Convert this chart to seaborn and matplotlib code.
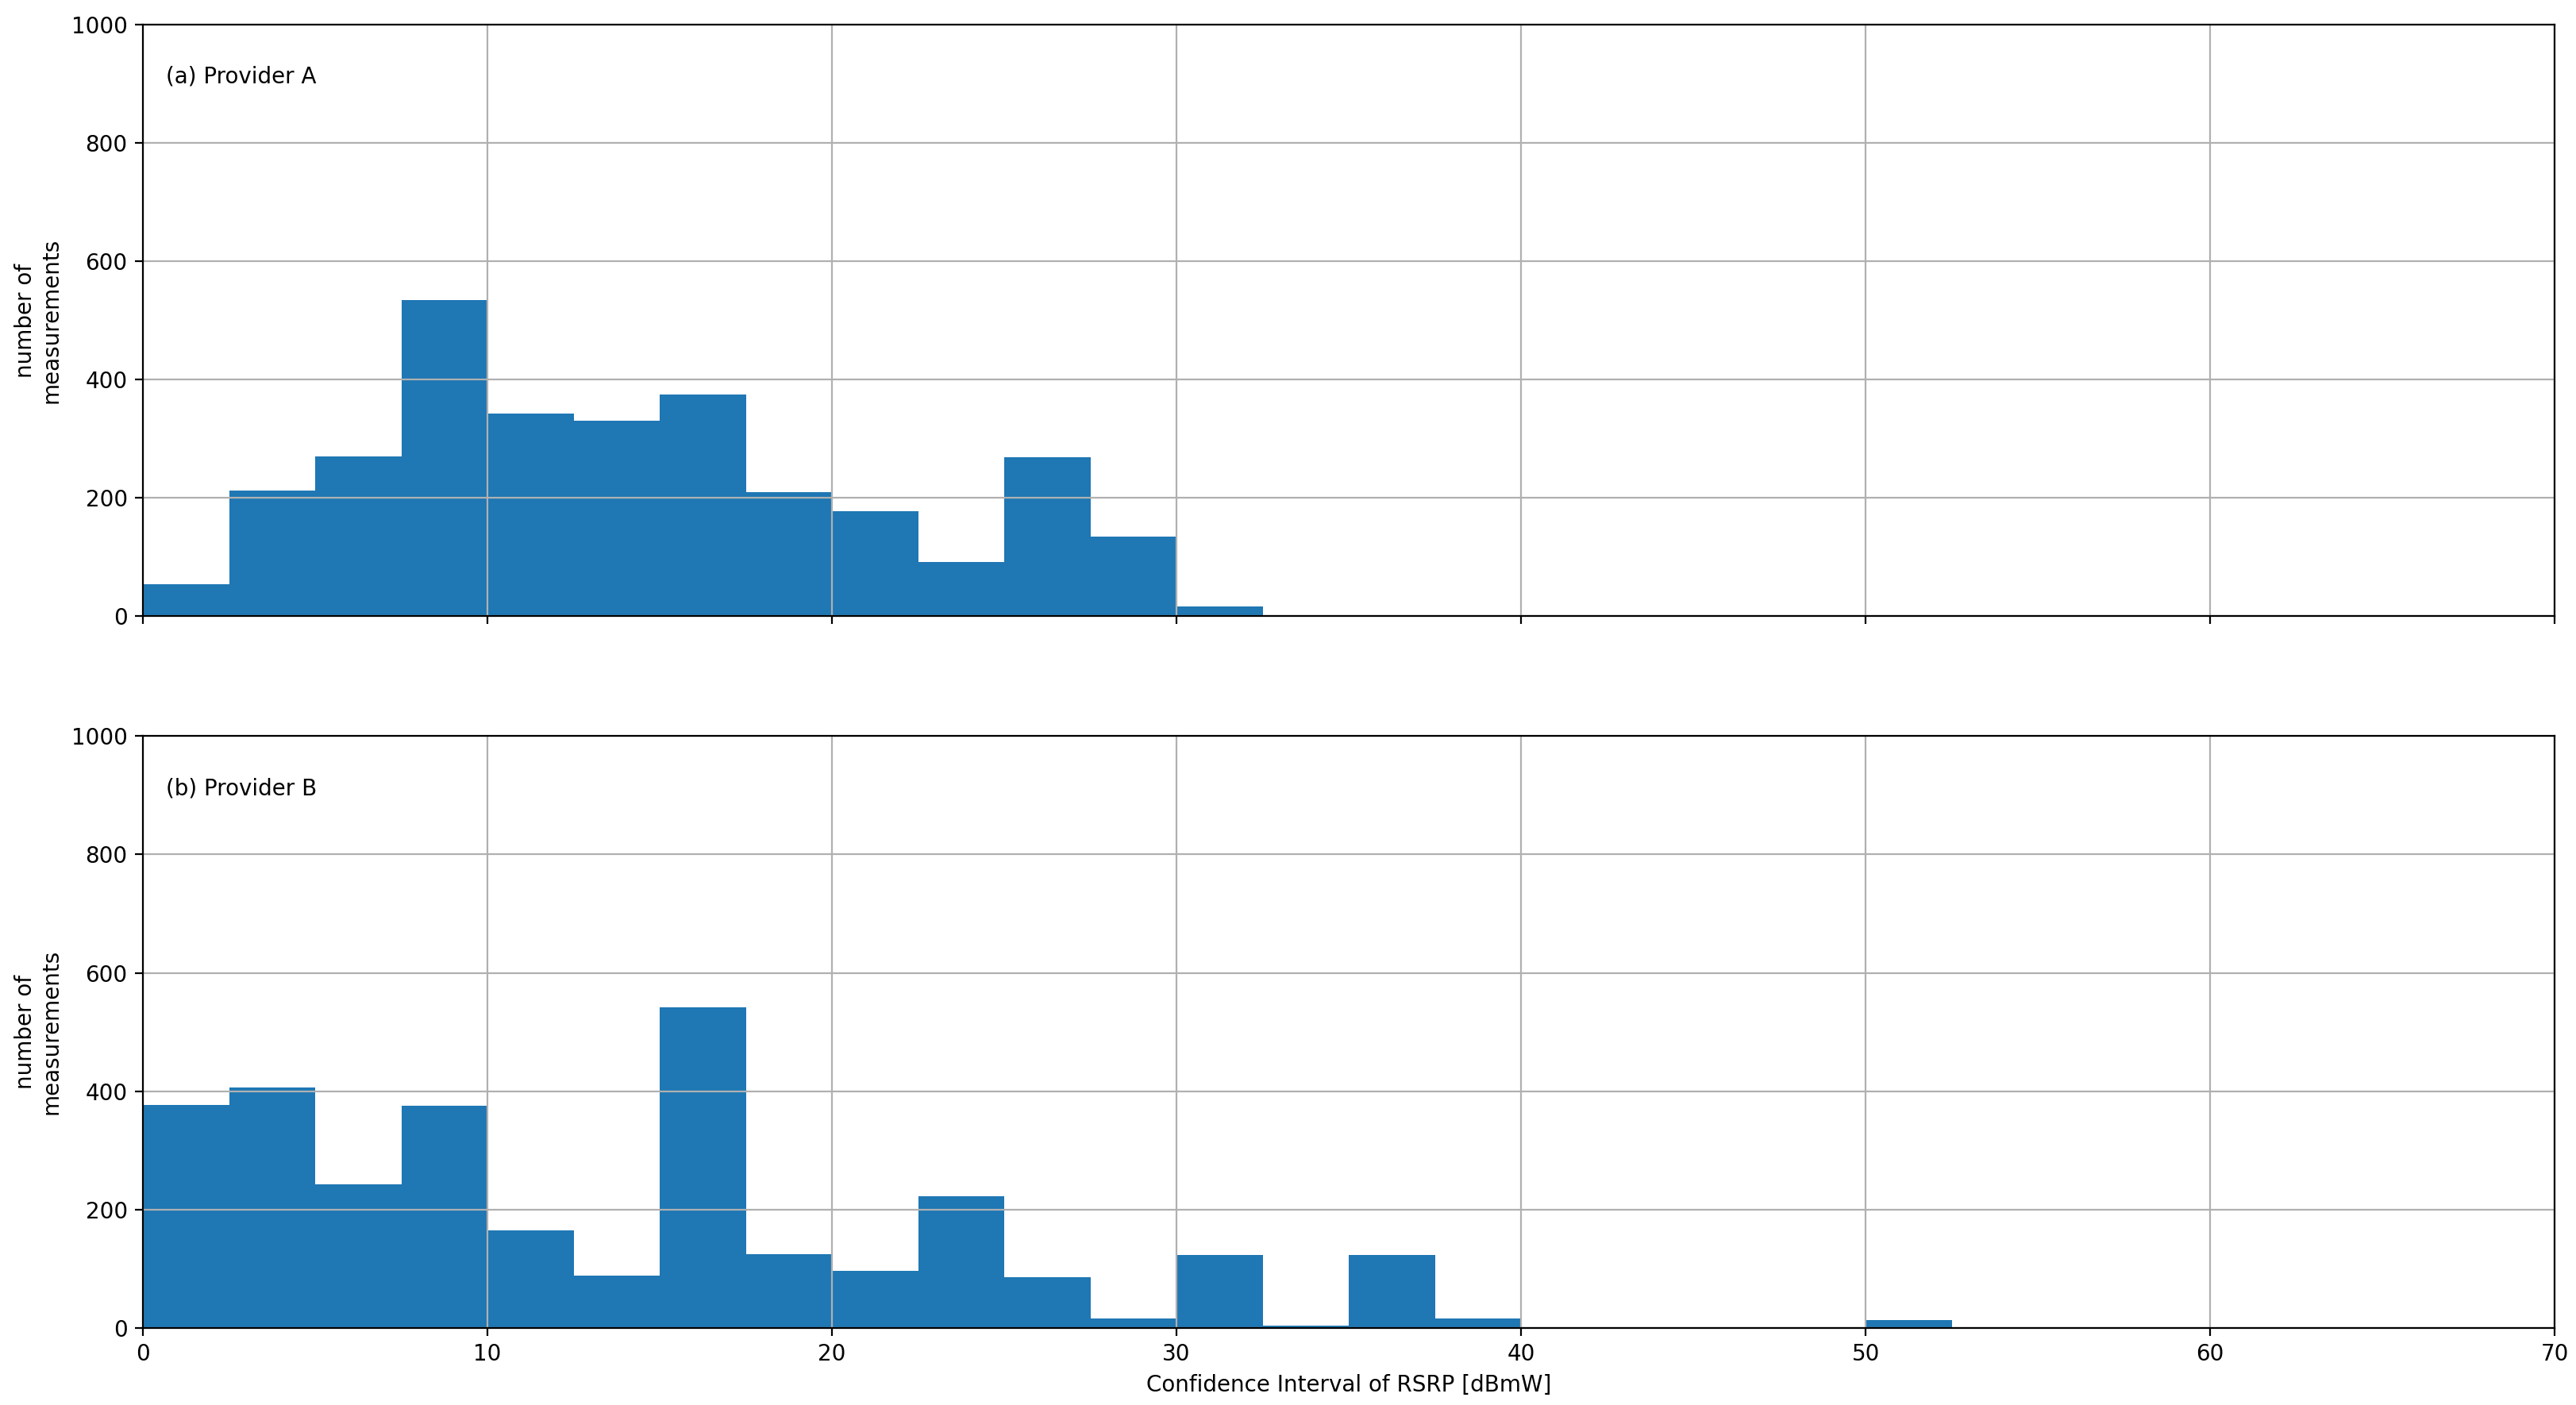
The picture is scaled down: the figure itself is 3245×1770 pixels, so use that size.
import numpy as np
import pandas as pd
import seaborn as sns
from matplotlib import pyplot as plt

# bin edges of the histograms (dBmW), width 2.5
bin_edges = np.arange(0, 72.5, 2.5)

# counts per bin
counts_a = [54, 212, 270, 534, 342, 331, 374, 209, 177, 92, 268, 134, 17, 0,
            0, 0, 0, 0, 0, 0, 0, 0, 0, 0, 0, 0, 0, 0]
counts_b = [377, 406, 242, 375, 165, 88, 541, 125, 96, 222, 86, 16, 123, 3,
            123, 16, 0, 0, 0, 0, 13, 0, 0, 0, 0, 0, 0, 0]

panels = ['(a) Provider A', '(b) Provider B']
xlabel = 'Confidence Interval of RSRP [dBmW]'
ylabel = 'number of\nmeasurements'

plt.rcParams['font.family'] = ['DejaVu Sans']

fig, axes = plt.subplots(2, 1, figsize=(16.225, 8.85), dpi=200, sharex=True)
fig.subplots_adjust(left=0.0555, right=0.9917, top=0.9825, bottom=0.055, hspace=0.203)

for ax, counts, title in zip(axes, [counts_a, counts_b], panels):
    df = pd.DataFrame({'ci': bin_edges[:-1], 'n': counts})
    sns.histplot(data=df, x='ci', weights='n', binwidth=2.5, binrange=(0, 70), ax=ax,
                 color='#1f77b4', alpha=1, linewidth=0, edgecolor='none')
    ax.set_xlim(0, 70)
    ax.set_ylim(0, 1000)
    ax.set_yticks(range(0, 1001, 200))
    ax.set_xticks(range(0, 71, 10))
    ax.grid(True, color='#b0b0b0', linewidth=0.8)
    ax.set_ylabel(ylabel)
    ax.set_xlabel('')
    ax.text(0.0095, 0.912, title, transform=ax.transAxes, va='center', ha='left')

axes[1].set_xlabel(xlabel)

fig.savefig('out.png', dpi=200)
